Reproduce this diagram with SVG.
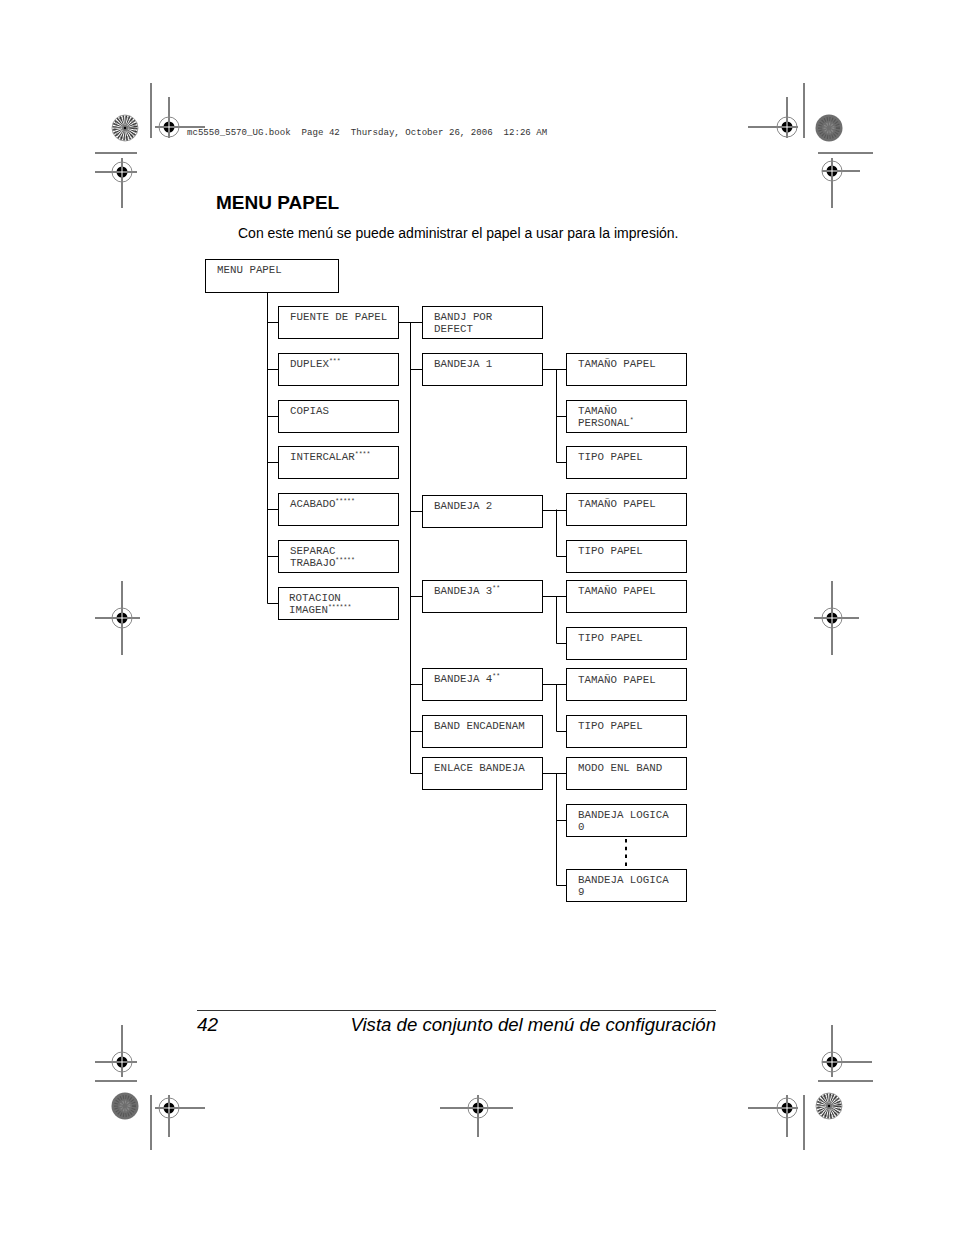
<svg xmlns="http://www.w3.org/2000/svg" width="954" height="1235" viewBox="0 0 954 1235">
<style>
.bx{fill:#fff;stroke:#000;stroke-width:1}
.cn{fill:none;stroke:#000;stroke-width:1}
.t{font-family:"Liberation Mono",monospace;font-size:10.8px;fill:#3a3a3a}
.sup{font-size:6.5px}
.rl{stroke:#000;stroke-width:1;fill:none}
.hdr{font-family:"Liberation Mono",monospace;font-size:9.1px;fill:#333;white-space:pre}
</style>
<defs>
<g id="cross">
<circle r="10" fill="none" stroke="#888" stroke-width="1"/>
<circle r="5.5" fill="#000"/>
<path d="M-5.5 0H5.5M0 -5.5V5.5" stroke="#fff" stroke-width="1"/>
</g>
<g id="burstL">
<circle r="13" fill="#fff" stroke="#888" stroke-width="0.8"/>
<circle r="7" fill="none" stroke="#333" stroke-width="11" stroke-dasharray="0.92 0.92"/>
<circle r="10" fill="none" stroke="#666" stroke-width="3" stroke-dasharray="0.6 1.2"/>
<circle r="3" fill="#777"/>
<circle r="1.2" fill="#000"/>
</g>
<g id="burstD">
<circle r="13.5" fill="#6e6e6e"/>
<circle r="9" fill="none" stroke="#555" stroke-width="4" stroke-dasharray="1 1.5"/>
<circle r="4" fill="none" stroke="#8a8a8a" stroke-width="3" stroke-dasharray="1 1.3"/>
</g>
</defs>
<rect width="954" height="1235" fill="#fff"/>

<!-- registration marks -->
<g id="marks">
<line class="rl" x1="151" y1="83" x2="151" y2="138"/>
<use href="#burstL" x="125" y="128"/>
<line class="rl" x1="155" y1="127" x2="205" y2="127"/>
<line class="rl" x1="169" y1="97" x2="169" y2="138"/>
<use href="#cross" x="169" y="127"/>
<line class="rl" x1="95" y1="153" x2="137" y2="153"/>
<line class="rl" x1="95" y1="172" x2="137" y2="172"/>
<line class="rl" x1="122" y1="158" x2="122" y2="208"/>
<use href="#cross" x="122" y="172"/>

<line class="rl" x1="804" y1="83" x2="804" y2="138"/>
<use href="#burstD" x="829" y="128"/>
<line class="rl" x1="748" y1="127" x2="798" y2="127"/>
<line class="rl" x1="787" y1="97" x2="787" y2="138"/>
<use href="#cross" x="787" y="127"/>
<line class="rl" x1="818" y1="153" x2="873" y2="153"/>
<line class="rl" x1="822" y1="171" x2="860" y2="171"/>
<line class="rl" x1="832" y1="158" x2="832" y2="208"/>
<use href="#cross" x="832" y="171"/>

<line class="rl" x1="95" y1="618" x2="140" y2="618"/>
<line class="rl" x1="122" y1="581" x2="122" y2="655"/>
<use href="#cross" x="122" y="618"/>
<line class="rl" x1="814" y1="618" x2="859" y2="618"/>
<line class="rl" x1="832" y1="581" x2="832" y2="655"/>
<use href="#cross" x="832" y="618"/>

<line class="rl" x1="95" y1="1062" x2="137" y2="1062"/>
<line class="rl" x1="122" y1="1025" x2="122" y2="1077"/>
<use href="#cross" x="122" y="1062"/>
<line class="rl" x1="95" y1="1081" x2="137" y2="1081"/>
<use href="#burstD" x="125" y="1106"/>
<line class="rl" x1="151" y1="1095" x2="151" y2="1150"/>
<line class="rl" x1="155" y1="1108" x2="205" y2="1108"/>
<line class="rl" x1="169" y1="1095" x2="169" y2="1137"/>
<use href="#cross" x="169" y="1108"/>

<line class="rl" x1="440" y1="1108" x2="513" y2="1108"/>
<line class="rl" x1="478" y1="1095" x2="478" y2="1137"/>
<use href="#cross" x="478" y="1108"/>

<line class="rl" x1="748" y1="1108" x2="798" y2="1108"/>
<line class="rl" x1="787" y1="1095" x2="787" y2="1137"/>
<use href="#cross" x="787" y="1108"/>
<line class="rl" x1="804" y1="1095" x2="804" y2="1150"/>
<use href="#burstL" x="829" y="1106"/>
<line class="rl" x1="818" y1="1081" x2="873" y2="1081"/>
<line class="rl" x1="822" y1="1062" x2="872" y2="1062"/>
<line class="rl" x1="832" y1="1025" x2="832" y2="1077"/>
<use href="#cross" x="832" y="1062"/>
</g>

<text class="hdr" x="187" y="135">mc5550_5570_UG.book  Page 42  Thursday, October 26, 2006  12:26 AM</text>

<text x="216" y="209" font-family="'Liberation Sans',Arial,sans-serif" font-size="19" font-weight="bold" fill="#000">MENU PAPEL</text>
<text x="238" y="238" font-family="'Liberation Sans',Arial,sans-serif" font-size="14" fill="#000">Con este menú se puede administrar el papel a usar para la impresión.</text>

<!-- connectors -->
<g id="connectors" class="cn">
<path d="M267.5 292.5V603.5"/>
<path d="M267.5 322.5H278.5M267.5 369.5H278.5M267.5 416.5H278.5M267.5 462.5H278.5M267.5 509.5H278.5M267.5 556.5H278.5M267.5 603.5H278.5"/>
<path d="M398.5 322.5H422.5M410.5 322.5V773.5"/>
<path d="M410.5 369.5H422.5M410.5 511.5H422.5M410.5 596.5H422.5M410.5 684.5H422.5M410.5 731.5H422.5M410.5 773.5H422.5"/>
<path d="M542.5 369.5H566.5M556.5 369.5V462.5M556.5 416.5H566.5M556.5 462.5H566.5"/>
<path d="M542.5 510.5H566.5M556.5 509.5V556.5M556.5 556.5H566.5"/>
<path d="M542.5 596.5H566.5M556.5 596.5V643.5M556.5 643.5H566.5"/>
<path d="M542.5 684.5H566.5M556.5 684.5V731.5M556.5 731.5H566.5"/>
<path d="M542.5 773.5H566.5M556.5 773.5V885.5M556.5 820.5H566.5M556.5 885.5H566.5"/>
<path d="M626 839V868" stroke-width="2" stroke-dasharray="3.5 4.3"/>
</g>

<!-- nodes -->
<g id="n-menu"><rect class="bx" x="205.5" y="259.5" width="133" height="33"/><text class="t" x="217" y="273">MENU PAPEL</text></g>

<g id="n-fuente"><rect class="bx" x="278.5" y="306.5" width="120" height="32"/><text class="t" x="290" y="320">FUENTE DE PAPEL</text></g>
<g id="n-duplex"><rect class="bx" x="278.5" y="353.5" width="120" height="32"/><text class="t" x="290" y="367">DUPLEX<tspan class="sup" dy="-4">***</tspan></text></g>
<g id="n-copias"><rect class="bx" x="278.5" y="400.5" width="120" height="32"/><text class="t" x="290" y="414">COPIAS</text></g>
<g id="n-intercalar"><rect class="bx" x="278.5" y="446.5" width="120" height="32"/><text class="t" x="290" y="460">INTERCALAR<tspan class="sup" dy="-4">****</tspan></text></g>
<g id="n-acabado"><rect class="bx" x="278.5" y="493.5" width="120" height="32"/><text class="t" x="290" y="507">ACABADO<tspan class="sup" dy="-4">*****</tspan></text></g>
<g id="n-separac"><rect class="bx" x="278.5" y="540.5" width="120" height="32"/><text class="t" x="290" y="554">SEPARAC</text><text class="t" x="290" y="566">TRABAJO<tspan class="sup" dy="-4">*****</tspan></text></g>
<g id="n-rotacion"><rect class="bx" x="278.5" y="587.5" width="120" height="32"/><text class="t" x="289" y="601">ROTACION</text><text class="t" x="289" y="613">IMAGEN<tspan class="sup" dy="-4">******</tspan></text></g>

<g id="n-bandj"><rect class="bx" x="422.5" y="306.5" width="120" height="32"/><text class="t" x="434" y="320">BANDJ POR</text><text class="t" x="434" y="332">DEFECT</text></g>
<g id="n-b1"><rect class="bx" x="422.5" y="353.5" width="120" height="32"/><text class="t" x="434" y="367">BANDEJA 1</text></g>
<g id="n-b2"><rect class="bx" x="422.5" y="495.5" width="120" height="32"/><text class="t" x="434" y="509">BANDEJA 2</text></g>
<g id="n-b3"><rect class="bx" x="422.5" y="580.5" width="120" height="32"/><text class="t" x="434" y="594">BANDEJA 3<tspan class="sup" dy="-4">**</tspan></text></g>
<g id="n-b4"><rect class="bx" x="422.5" y="668.5" width="120" height="32"/><text class="t" x="434" y="682">BANDEJA 4<tspan class="sup" dy="-4">**</tspan></text></g>
<g id="n-bandenc"><rect class="bx" x="422.5" y="715.5" width="120" height="32"/><text class="t" x="434" y="729">BAND ENCADENAM</text></g>
<g id="n-enlace"><rect class="bx" x="422.5" y="757.5" width="120" height="32"/><text class="t" x="434" y="771">ENLACE BANDEJA</text></g>

<g id="n-b1-tam"><rect class="bx" x="566.5" y="353.5" width="120" height="32"/><text class="t" x="578" y="367">TAMAÑO PAPEL</text></g>
<g id="n-b1-per"><rect class="bx" x="566.5" y="400.5" width="120" height="32"/><text class="t" x="578" y="414">TAMAÑO</text><text class="t" x="578" y="426">PERSONAL<tspan class="sup" dy="-4">*</tspan></text></g>
<g id="n-b1-tipo"><rect class="bx" x="566.5" y="446.5" width="120" height="32"/><text class="t" x="578" y="460">TIPO PAPEL</text></g>
<g id="n-b2-tam"><rect class="bx" x="566.5" y="493.5" width="120" height="32"/><text class="t" x="578" y="507">TAMAÑO PAPEL</text></g>
<g id="n-b2-tipo"><rect class="bx" x="566.5" y="540.5" width="120" height="32"/><text class="t" x="578" y="554">TIPO PAPEL</text></g>
<g id="n-b3-tam"><rect class="bx" x="566.5" y="580.5" width="120" height="32"/><text class="t" x="578" y="594">TAMAÑO PAPEL</text></g>
<g id="n-b3-tipo"><rect class="bx" x="566.5" y="627.5" width="120" height="32"/><text class="t" x="578" y="641">TIPO PAPEL</text></g>
<g id="n-b4-tam"><rect class="bx" x="566.5" y="668.5" width="120" height="32"/><text class="t" x="578" y="683">TAMAÑO PAPEL</text></g>
<g id="n-b4-tipo"><rect class="bx" x="566.5" y="715.5" width="120" height="32"/><text class="t" x="578" y="729">TIPO PAPEL</text></g>
<g id="n-modo"><rect class="bx" x="566.5" y="757.5" width="120" height="32"/><text class="t" x="578" y="771">MODO ENL BAND</text></g>
<g id="n-log0"><rect class="bx" x="566.5" y="804.5" width="120" height="32"/><text class="t" x="578" y="818">BANDEJA LOGICA</text><text class="t" x="578" y="830">0</text></g>
<g id="n-log9"><rect class="bx" x="566.5" y="869.5" width="120" height="32"/><text class="t" x="578" y="883">BANDEJA LOGICA</text><text class="t" x="578" y="895">9</text></g>

<!-- footer -->
<line x1="197" y1="1010.5" x2="716" y2="1010.5" stroke="#000" stroke-width="0.8"/>
<text x="197" y="1031" font-family="'Liberation Sans',Arial,sans-serif" font-size="19" font-style="italic" fill="#000">42</text>
<text x="716" y="1031" text-anchor="end" font-family="'Liberation Sans',Arial,sans-serif" font-size="18.6" font-style="italic" fill="#000">Vista de conjunto del menú de configuración</text>
</svg>
